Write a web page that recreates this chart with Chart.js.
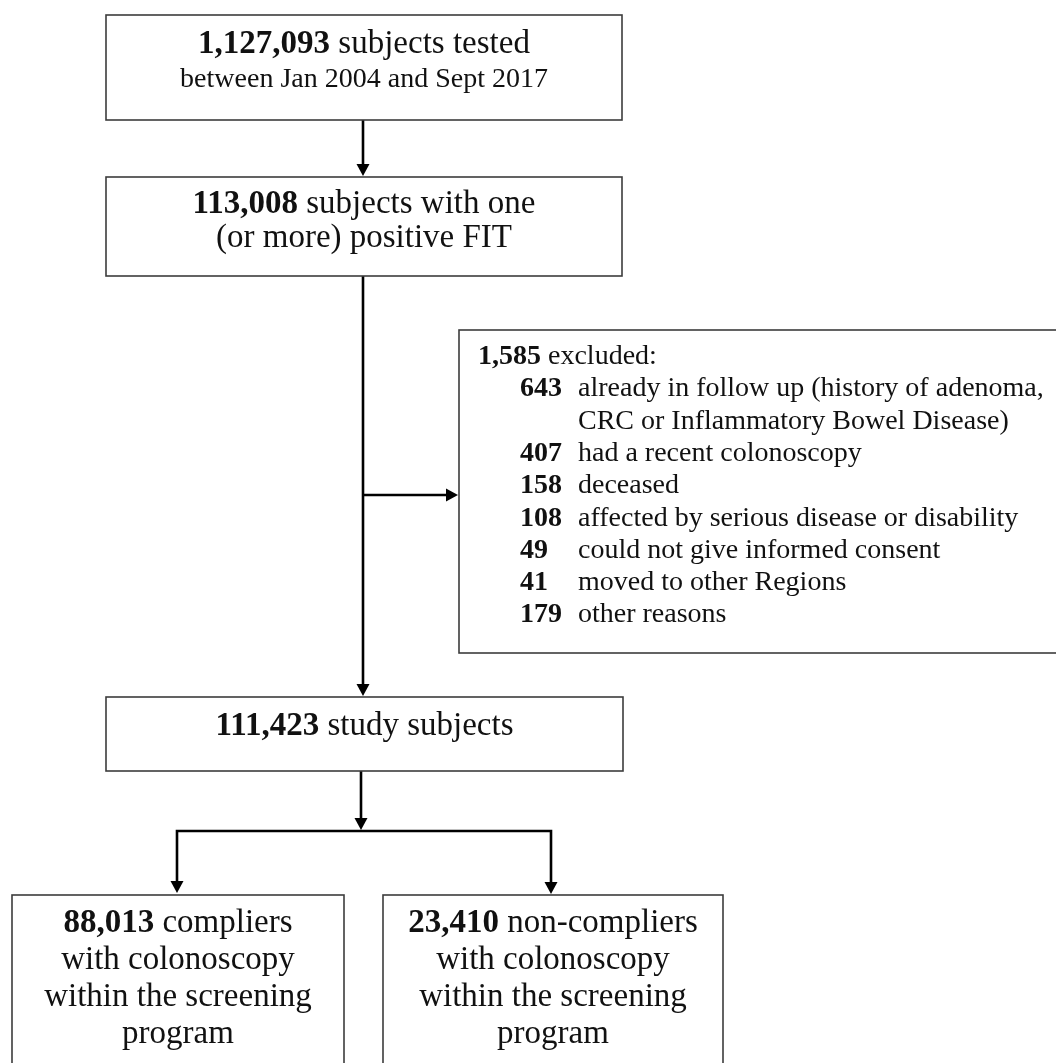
<!DOCTYPE html>
<html><head><meta charset="utf-8">
<script src="https://cdn.jsdelivr.net/npm/chart.js@4/dist/chart.umd.min.js"></script>
<style>html,body{margin:0;padding:0;background:#fff}#wrap{width:1056px;height:1063px;overflow:hidden}canvas{display:block;background:#fff}</style>
</head><body><div id="wrap"><canvas id="c" width="1056" height="1063"></canvas></div>
<script>
// ---------- data ----------
const stageCounts = ['1,127,093', '113,008', '111,423'];
const stageLabels = [
  [' subjects tested', 'between Jan 2004 and Sept 2017'],
  [' subjects with one', '(or more) positive FIT'],
  [' study subjects']
];
const excludedTotal = '1,585';
const excludedLabel = ' excluded:';
const exclusionCounts = ['643', '407', '158', '108', '49', '41', '179'];
const exclusionReasons = [
  ['already in follow up (history of adenoma,', 'CRC or Inflammatory Bowel Disease)'],
  ['had a recent colonoscopy'],
  ['deceased'],
  ['affected by serious disease or disability'],
  ['could not give informed consent'],
  ['moved to other Regions'],
  ['other reasons']
];
const groupCounts = ['88,013', '23,410'];
const groupLabels = [
  [' compliers', 'with colonoscopy', 'within the screening', 'program'],
  [' non-compliers', 'with colonoscopy', 'within the screening', 'program']
];

// ---------- layout (chart units = px) ----------
const FONT = '"Liberation Serif", "Times New Roman", serif';
const layout = {
  stages: [
    {x0:106, x1:622, y0:15, y1:120, base:[53, 87], size:[33, 28]},
    {x0:106, x1:622, y0:177, y1:276, base:[213, 247], size:[33, 33]},
    {x0:106, x1:623, y0:697, y1:771, base:[735], size:[33]}
  ],
  excl: {x0:459, x1:1062, y0:330, y1:653, titleX:478, numX:520, textX:578, firstBase:364, step:32.3, size:28},
  groups: [
    {x0:12, x1:344, y0:895, y1:1090, base:[932, 969, 1006, 1043], size:33},
    {x0:383, x1:723, y0:895, y1:1090, base:[932, 969, 1006, 1043], size:33}
  ],
  connectors: [
    {pts:[[363,120],[363,176]], arrowEnd:true},
    {pts:[[363,276],[363,696]], arrowEnd:true},
    {pts:[[363,495],[458,495]], arrowEnd:true},
    {pts:[[361,771],[361,830]], arrowEnd:true},
    {pts:[[177,893],[177,831],[551,831],[551,894]], arrowEnd:true, arrowStart:true}
  ]
};
const ARROW_L = 12, ARROW_W = 6.5;

function trim(p, q, d) { // move p toward q by d
  const dx = q[0]-p[0], dy = q[1]-p[1], len = Math.hypot(dx, dy);
  return [p[0] + dx/len*d, p[1] + dy/len*d];
}

const datasets = layout.connectors.map(c => {
  const pts = c.pts.map(p => p.slice());
  const n = pts.length;
  if (c.arrowEnd) pts[n-1] = trim(pts[n-1], pts[n-2], ARROW_L - 2);
  if (c.arrowStart) pts[0] = trim(pts[0], pts[1], ARROW_L - 2);
  return {
    data: pts.map(p => ({x:p[0], y:p[1]})),
    showLine:true, borderColor:'#000', borderWidth:2.6, pointRadius:0,
    fill:false, tension:0, clip:false, borderJoinStyle:'miter', borderCapStyle:'butt'
  };
});

function drawRuns(ctx, runs, x, y, size, align) {
  const widths = runs.map(r => { ctx.font = (r.bold ? 'bold ' : '') + size + 'px ' + FONT; return ctx.measureText(r.text).width; });
  const total = widths.reduce((a,b) => a+b, 0);
  let cx = align === 'center' ? x - total/2 : x;
  ctx.textAlign = 'left';
  ctx.textBaseline = 'alphabetic';
  runs.forEach((r, i) => {
    ctx.font = (r.bold ? 'bold ' : '') + size + 'px ' + FONT;
    ctx.fillText(r.text, cx, y);
    cx += widths[i];
  });
}

const flowPlugin = {
  id:'flow',
  afterDatasetsDraw(chart) {
    const ctx = chart.ctx, xs = chart.scales.x, ys = chart.scales.y;
    const X = v => xs.getPixelForValue(v), Y = v => ys.getPixelForValue(v);
    ctx.save();
    // arrowheads
    ctx.fillStyle = '#000';
    layout.connectors.forEach(c => {
      const heads = [];
      const n = c.pts.length;
      if (c.arrowEnd) heads.push([c.pts[n-1], c.pts[n-2]]);
      if (c.arrowStart) heads.push([c.pts[0], c.pts[1]]);
      heads.forEach(([tip, from]) => {
        const tx = X(tip[0]), ty = Y(tip[1]), fx = X(from[0]), fy = Y(from[1]);
        const dx = tx - fx, dy = ty - fy, len = Math.hypot(dx, dy);
        const ux = dx/len, uy = dy/len;
        const bx = tx - ux*ARROW_L, by = ty - uy*ARROW_L;
        ctx.beginPath();
        ctx.moveTo(tx, ty);
        ctx.lineTo(bx - uy*ARROW_W, by + ux*ARROW_W);
        ctx.lineTo(bx + uy*ARROW_W, by - ux*ARROW_W);
        ctx.closePath();
        ctx.fill();
      });
    });
    // boxes
    ctx.strokeStyle = '#3c3c3c';
    ctx.lineWidth = 1.6;
    const rect = b => ctx.strokeRect(X(b.x0), Y(b.y0), X(b.x1) - X(b.x0), Y(b.y1) - Y(b.y0));
    layout.stages.forEach(rect);
    rect(layout.excl);
    layout.groups.forEach(rect);
    // texts
    ctx.fillStyle = '#111';
    layout.stages.forEach((b, i) => {
      const cx = X((b.x0 + b.x1)/2);
      stageLabels[i].forEach((line, j) => {
        const runs = j === 0 ? [{text:stageCounts[i], bold:true}, {text:line}] : [{text:line}];
        drawRuns(ctx, runs, cx, Y(b.base[j]), b.size[j], 'center');
      });
    });
    const e = layout.excl;
    drawRuns(ctx, [{text:excludedTotal, bold:true}, {text:excludedLabel}], X(e.titleX), Y(e.firstBase), e.size, 'left');
    let row = 1;
    exclusionCounts.forEach((cnt, i) => {
      drawRuns(ctx, [{text:cnt, bold:true}], X(e.numX), Y(e.firstBase + row*e.step), e.size, 'left');
      exclusionReasons[i].forEach(line => {
        drawRuns(ctx, [{text:line}], X(e.textX), Y(e.firstBase + row*e.step), e.size, 'left');
        row++;
      });
    });
    layout.groups.forEach((b, i) => {
      const cx = X((b.x0 + b.x1)/2);
      groupLabels[i].forEach((line, j) => {
        const runs = j === 0 ? [{text:groupCounts[i], bold:true}, {text:line}] : [{text:line}];
        drawRuns(ctx, runs, cx, Y(b.base[j]), b.size, 'center');
      });
    });
    ctx.restore();
  }
};

new Chart(document.getElementById('c').getContext('2d'), {
  type:'scatter',
  data:{datasets},
  options:{
    responsive:false, animation:false, events:[],
    layout:{padding:0},
    plugins:{legend:{display:false}, tooltip:{enabled:false}, title:{display:false}},
    scales:{
      x:{type:'linear', min:0, max:1056, display:false},
      y:{type:'linear', min:0, max:1063, reverse:true, display:false}
    }
  },
  plugins:[flowPlugin]
});
</script>
</body></html>
